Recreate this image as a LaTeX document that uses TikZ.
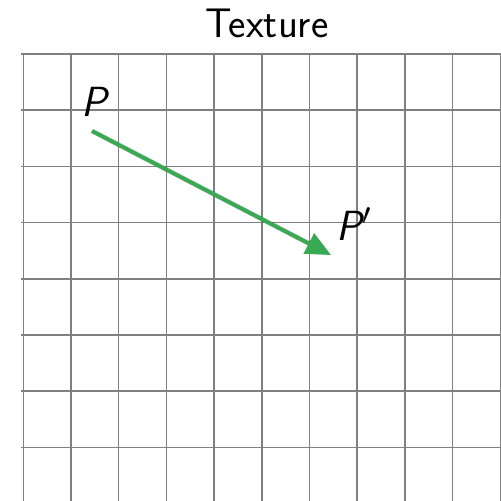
\documentclass[tikz,border=0pt]{standalone}
\usepackage{xcolor}
\usepackage{tikz}
\usetikzlibrary{arrows.meta,positioning}
\definecolor{gridgray}{RGB}{128,128,128}
\definecolor{movegreen}{RGB}{56,170,84}
\tikzset{
  gridline/.style={draw=gridgray, line width=0.85pt},
  pointlabel/.style={font=\fontsize{24}{28}\selectfont\sffamily\itshape, inner sep=0pt},
  figtitle/.style={font=\fontsize{23.5}{28}\selectfont\sffamily, inner sep=0pt},
  move/.style={-{Triangle[length=5mm,width=4.4mm]}, draw=movegreen, line width=2.2pt,
    preaction={draw=black, opacity=0.2, line width=2.8pt, -{Triangle[length=5mm,width=4.4mm]},
      transform canvas={shift={(0.05,-0.08)}}}}
}
\begin{document}
\begin{tikzpicture}[x=0.02cm,y=-0.02cm]
  \useasboundingbox (0,0) rectangle (501,501);

  % texture grid
  \foreach \i in {0,...,10}
    \draw[gridline] (23.3+47.7*\i,54) -- (23.3+47.7*\i,501);
  \foreach \j in {0,...,7}
    \draw[gridline] (21,54+56.2*\j) -- (501,54+56.2*\j);

  \node[figtitle] (title) at (267,23) {Texture};

  \coordinate (p) at (92,131);
  \coordinate (pp) at (331,255);
  \node[pointlabel] (plabel) at (94,102) {P};
  \node[pointlabel] (pplabel) at (354,224) {P$'$};

  \draw[move] (p) -- (pp);
\end{tikzpicture}
\end{document}
